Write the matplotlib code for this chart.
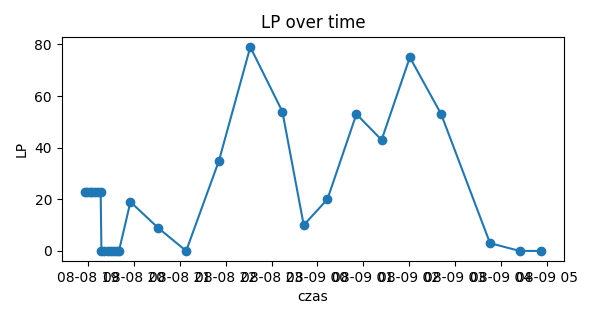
import matplotlib
matplotlib.use("Agg")
import matplotlib.pyplot as plt
import pandas as pd

# pomiary LP w czasie
czas = [
    "2024-08-08 18:55", "2024-08-08 18:58", "2024-08-08 19:02", "2024-08-08 19:05",
    "2024-08-08 19:09", "2024-08-08 19:12", "2024-08-08 19:16",
    "2024-08-08 19:17", "2024-08-08 19:21", "2024-08-08 19:25", "2024-08-08 19:29",
    "2024-08-08 19:33", "2024-08-08 19:37", "2024-08-08 19:40",
    "2024-08-08 19:55", "2024-08-08 20:31", "2024-08-08 21:08", "2024-08-08 21:51",
    "2024-08-08 22:32", "2024-08-08 23:14", "2024-08-08 23:42", "2024-08-09 00:13",
    "2024-08-09 00:51", "2024-08-09 01:24", "2024-08-09 02:01", "2024-08-09 02:42",
    "2024-08-09 03:46", "2024-08-09 04:25", "2024-08-09 04:53",
]
lp = [
    23, 23, 23, 23, 23, 23, 23,
    0, 0, 0, 0, 0, 0, 0,
    19, 9, 0, 35, 79, 54, 10, 20, 53, 43, 75, 53, 3, 0, 0,
]

czas = pd.to_datetime(czas)

fig, ax = plt.subplots(figsize=(6, 3.2), dpi=100)
ax.plot(czas, lp, marker="o")
ax.set_title("LP over time")
ax.set_xlabel("czas")
ax.set_ylabel("LP")

fig.subplots_adjust(left=0.103, right=0.94, top=0.885, bottom=0.184)
plt.savefig("out.png")
